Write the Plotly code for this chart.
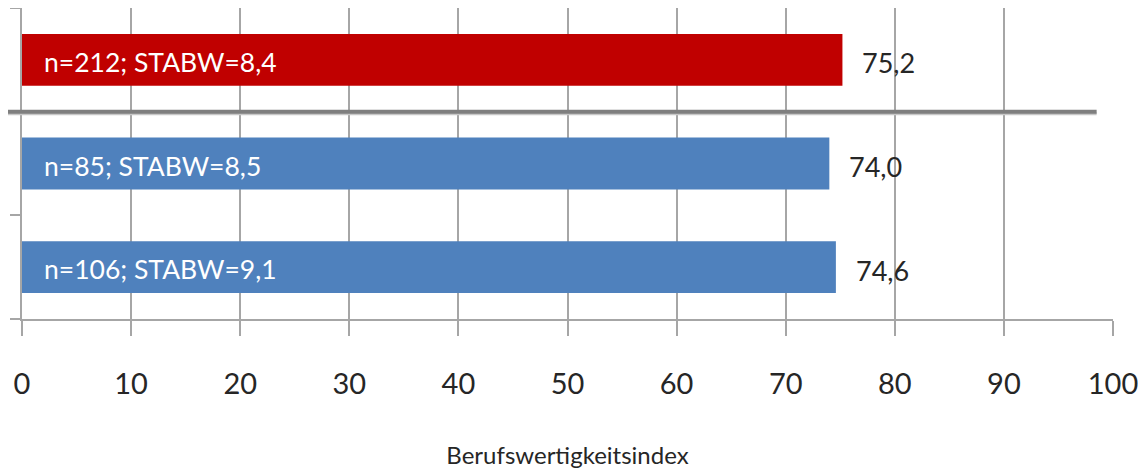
import plotly.graph_objects as go

# Data (bottom to top)
categories = ["Gruppe 2", "Gruppe 1", "Gesamt"]
means = [74.6, 74.0, 75.2]
n_values = [106, 85, 212]
stabw = [9.1, 8.5, 8.4]
bar_colors = ["#4F81BD", "#4F81BD", "#C00000"]
x_ticks = [0, 10, 20, 30, 40, 50, 60, 70, 80, 90, 100]
x_title = "Berufswertigkeitsindex"

FONT = "Lato"
grid = "#A6A6A6"
# page body has an 8px default margin, so the figure is 8px smaller than the window
W, H, ML, MR, MT, MB = 1138, 462, 14, 33, 0, 151
plot_h = H - MT - MB

def de(v):
    return f"{v:.1f}".replace(".", ",")

fig = go.Figure()
fig.add_trace(go.Bar(
    y=categories, x=means, orientation="h",
    marker=dict(color=bar_colors, line=dict(width=0)),
    width=0.5, hoverinfo="skip", showlegend=False,
))

ann = []
for c, m, n, s in zip(categories, means, n_values, stabw):
    ann.append(dict(x=0, y=c, xref="x", yref="y", xanchor="left", yanchor="middle",
                    xshift=20, yshift=-2, showarrow=False,
                    text=f"n={n}; STABW={de(s)}",
                    font=dict(family=FONT, size=26.5, color="white")))
    ann.append(dict(x=m, y=c, xref="x", yref="y", xanchor="left", yanchor="middle",
                    xshift=18, yshift=-3, showarrow=False,
                    text=de(m),
                    font=dict(family=FONT, size=27, color="#262626")))

# separator between "Gesamt" and groups (category boundary at 1.5 of range [-0.5, 2.5])
sep_y = (1.5 + 0.5) / 3.0
sh = 2.0 / plot_h
shapes = [
    dict(type="line", xref="paper", yref="paper", x0=-0.02, x1=0.985,
         y0=sep_y - sh, y1=sep_y - sh, line=dict(color="#C8C8C8", width=3)),
    dict(type="line", xref="paper", yref="paper", x0=-0.02, x1=0.985,
         y0=sep_y, y1=sep_y, line=dict(color="#7F7F7F", width=4)),
]

fig.update_layout(
    width=W, height=H,
    margin=dict(l=ML, r=MR, t=MT, b=MB, pad=0),
    paper_bgcolor="white", plot_bgcolor="white",
    bargap=0.5,
    annotations=ann, shapes=shapes,
    font=dict(family=FONT, color="#262626"),
    xaxis=dict(
        range=[0, 100], tickvals=x_ticks, ticktext=[str(t) for t in x_ticks],
        showgrid=True, gridcolor=grid, gridwidth=2,
        showline=True, linecolor=grid, linewidth=2,
        ticks="outside", ticklen=15, tickwidth=2, tickcolor=grid,
        ticklabelstandoff=23,
        tickfont=dict(family=FONT, size=29, color="#262626"),
        zeroline=False, fixedrange=True,
        title=dict(text=x_title, standoff=48,
                   font=dict(family=FONT, size=24, color="#262626")),
        automargin=False,
    ),
    yaxis=dict(
        type="category", categoryorder="array", categoryarray=categories,
        range=[-0.5, 2.5], showticklabels=False,
        showgrid=False, showline=True, linecolor=grid, linewidth=2,
        ticks="outside", ticklen=10, tickwidth=2, tickcolor=grid,
        tickson="boundaries", zeroline=False, fixedrange=True, automargin=False,
    ),
)

fig.write_html("out.html")
